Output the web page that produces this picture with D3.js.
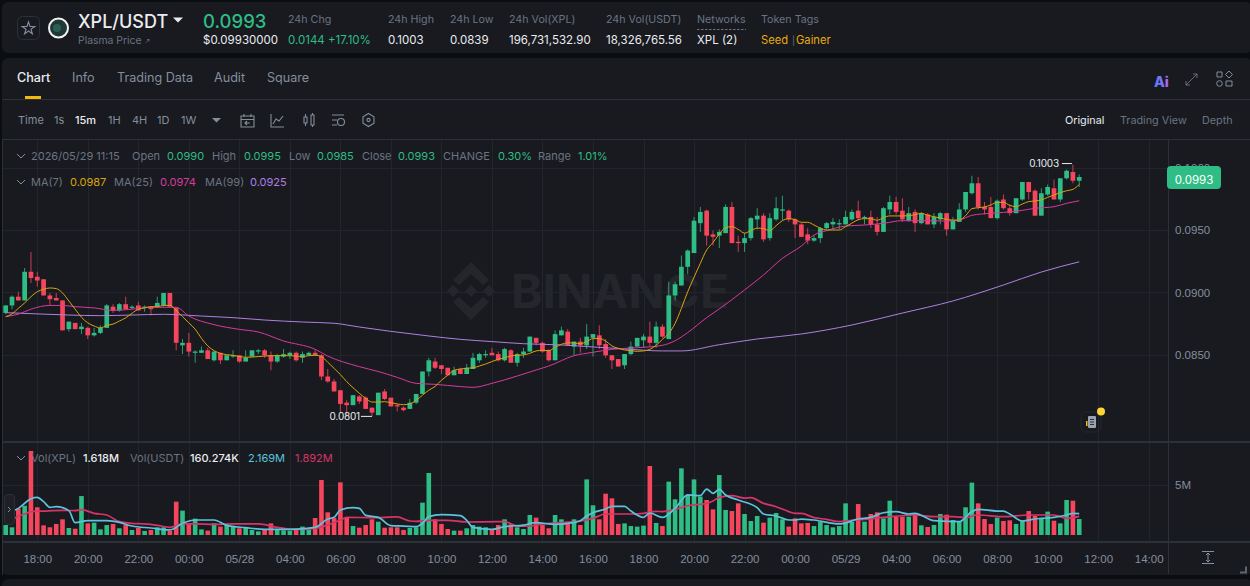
<!DOCTYPE html>
<html>
<head>
<meta charset="utf-8">
<title>XPL/USDT</title>
<script src="https://cdn.jsdelivr.net/npm/d3@7/dist/d3.min.js"></script>
<style>
html,body{margin:0;padding:0;background:#0b0e11;overflow:hidden}
svg{display:block;font-family:Inter,"Noto Sans",sans-serif}
text{dominant-baseline:central}
</style>
</head>
<body>
<svg id="chart" width="1250" height="586"></svg>
<script>
// 15-minute candles for XPL/USDT, oldest first.
const opens = [
0.0884,0.0890,0.0897,0.0894,0.0917,0.0913,0.0911,0.0898,0.0896,0.0894,0.0871,0.0876,0.0871,0.0872,0.0866,0.0868,0.0872,0.0889,0.0886,0.0891,
0.0888,0.0890,0.0888,0.0889,0.0889,0.0890,0.0900,0.0888,0.0858,0.0860,0.0852,0.0852,0.0854,0.0846,0.0852,0.0846,0.0849,0.0850,0.0845,0.0849,
0.0853,0.0854,0.0850,0.0845,0.0849,0.0850,0.0852,0.0848,0.0850,0.0852,0.0850,0.0833,0.0829,0.0822,0.0812,0.0810,0.0817,0.0816,0.0808,0.0802,
0.0821,0.0816,0.0810,0.0808,0.0807,0.0812,0.0819,0.0837,0.0845,0.0842,0.0840,0.0834,0.0839,0.0835,0.0839,0.0846,0.0850,0.0852,0.0851,0.0846,
0.0854,0.0844,0.0851,0.0853,0.0864,0.0860,0.0854,0.0846,0.0866,0.0869,0.0857,0.0861,0.0858,0.0864,0.0866,0.0859,0.0850,0.0847,0.0842,0.0851,
0.0857,0.0862,0.0865,0.0860,0.0873,0.0863,0.0898,0.0906,0.0921,0.0932,0.0956,0.0966,0.0947,0.0946,0.0948,0.0969,0.0941,0.0940,0.0944,0.0959,
0.0962,0.0944,0.0959,0.0966,0.0966,0.0959,0.0955,0.0947,0.0942,0.0944,0.0952,0.0955,0.0955,0.0955,0.0959,0.0966,0.0960,0.0961,0.0955,0.0949,
0.0967,0.0973,0.0966,0.0958,0.0965,0.0956,0.0963,0.0955,0.0959,0.0964,0.0951,0.0957,0.0967,0.0980,0.0988,0.0969,0.0969,0.0960,0.0975,0.0968,
0.0964,0.0975,0.0989,0.0982,0.0962,0.0979,0.0984,0.0975,0.0992,0.0997,0.0990];
const highs = [
0.0890,0.0898,0.0901,0.0920,0.0933,0.0917,0.0911,0.0900,0.0900,0.0894,0.0877,0.0876,0.0876,0.0873,0.0872,0.0874,0.0891,0.0891,0.0892,0.0897,
0.0890,0.0893,0.0890,0.0889,0.0897,0.0900,0.0900,0.0888,0.0863,0.0868,0.0854,0.0857,0.0856,0.0853,0.0852,0.0850,0.0854,0.0850,0.0854,0.0854,
0.0855,0.0855,0.0853,0.0851,0.0855,0.0853,0.0853,0.0853,0.0853,0.0854,0.0851,0.0839,0.0831,0.0822,0.0814,0.0818,0.0818,0.0817,0.0808,0.0820,
0.0823,0.0816,0.0811,0.0809,0.0815,0.0819,0.0837,0.0848,0.0848,0.0842,0.0840,0.0841,0.0840,0.0843,0.0852,0.0852,0.0854,0.0856,0.0853,0.0856,
0.0855,0.0852,0.0856,0.0865,0.0864,0.0861,0.0855,0.0870,0.0873,0.0871,0.0861,0.0864,0.0875,0.0867,0.0874,0.0863,0.0850,0.0847,0.0851,0.0861,
0.0864,0.0867,0.0877,0.0877,0.0875,0.0909,0.0909,0.0930,0.0935,0.0961,0.0969,0.0967,0.0950,0.0951,0.0971,0.0973,0.0946,0.0948,0.0961,0.0968,
0.0964,0.0964,0.0977,0.0978,0.0967,0.0960,0.0956,0.0952,0.0946,0.0953,0.0957,0.0960,0.0959,0.0966,0.0967,0.0974,0.0962,0.0966,0.0961,0.0969,
0.0978,0.0977,0.0976,0.0969,0.0967,0.0965,0.0964,0.0964,0.0965,0.0964,0.0961,0.0972,0.0981,0.0994,0.0993,0.0973,0.0977,0.0975,0.0979,0.0971,
0.0976,0.0989,0.0989,0.0983,0.0984,0.0987,0.0991,0.0992,0.0999,0.1003,0.0995];
const lows = [
0.0883,0.0887,0.0894,0.0894,0.0908,0.0905,0.0898,0.0890,0.0894,0.0870,0.0869,0.0871,0.0867,0.0863,0.0865,0.0867,0.0872,0.0884,0.0885,0.0887,
0.0887,0.0886,0.0885,0.0882,0.0888,0.0889,0.0889,0.0854,0.0851,0.0849,0.0844,0.0852,0.0847,0.0845,0.0843,0.0846,0.0848,0.0844,0.0845,0.0849,
0.0851,0.0848,0.0838,0.0844,0.0848,0.0847,0.0845,0.0844,0.0850,0.0850,0.0830,0.0828,0.0821,0.0804,0.0802,0.0810,0.0811,0.0807,0.0801,0.0802,
0.0814,0.0809,0.0805,0.0805,0.0807,0.0811,0.0819,0.0833,0.0839,0.0835,0.0834,0.0834,0.0835,0.0835,0.0839,0.0844,0.0848,0.0850,0.0845,0.0845,
0.0844,0.0841,0.0848,0.0853,0.0858,0.0852,0.0845,0.0846,0.0866,0.0858,0.0850,0.0852,0.0855,0.0849,0.0855,0.0848,0.0839,0.0841,0.0839,0.0850,
0.0857,0.0856,0.0857,0.0856,0.0864,0.0863,0.0894,0.0906,0.0915,0.0932,0.0949,0.0938,0.0938,0.0936,0.0948,0.0940,0.0933,0.0933,0.0942,0.0951,
0.0941,0.0942,0.0958,0.0958,0.0957,0.0944,0.0945,0.0939,0.0941,0.0940,0.0951,0.0951,0.0951,0.0955,0.0958,0.0958,0.0955,0.0952,0.0946,0.0949,
0.0963,0.0963,0.0957,0.0957,0.0949,0.0955,0.0955,0.0952,0.0955,0.0946,0.0951,0.0957,0.0965,0.0979,0.0967,0.0963,0.0960,0.0959,0.0967,0.0962,
0.0964,0.0974,0.0975,0.0962,0.0962,0.0978,0.0975,0.0973,0.0991,0.0988,0.0985];
const closes = [
0.0890,0.0897,0.0894,0.0917,0.0912,0.0910,0.0898,0.0895,0.0894,0.0870,0.0877,0.0871,0.0873,0.0866,0.0868,0.0872,0.0890,0.0886,0.0891,0.0887,
0.0889,0.0886,0.0889,0.0887,0.0892,0.0900,0.0889,0.0860,0.0860,0.0853,0.0853,0.0854,0.0847,0.0853,0.0846,0.0850,0.0850,0.0845,0.0848,0.0854,
0.0854,0.0850,0.0845,0.0850,0.0851,0.0852,0.0846,0.0851,0.0852,0.0850,0.0833,0.0829,0.0821,0.0811,0.0810,0.0818,0.0813,0.0807,0.0804,0.0820,
0.0815,0.0809,0.0809,0.0806,0.0812,0.0819,0.0837,0.0846,0.0840,0.0839,0.0834,0.0838,0.0835,0.0840,0.0848,0.0851,0.0851,0.0850,0.0846,0.0855,
0.0844,0.0851,0.0853,0.0865,0.0860,0.0853,0.0846,0.0867,0.0870,0.0858,0.0861,0.0858,0.0865,0.0867,0.0858,0.0850,0.0846,0.0841,0.0851,0.0857,
0.0864,0.0865,0.0860,0.0873,0.0865,0.0898,0.0907,0.0921,0.0934,0.0958,0.0965,0.0946,0.0945,0.0949,0.0969,0.0940,0.0940,0.0944,0.0960,0.0962,
0.0943,0.0960,0.0968,0.0967,0.0959,0.0955,0.0945,0.0942,0.0944,0.0952,0.0956,0.0957,0.0956,0.0961,0.0965,0.0960,0.0961,0.0955,0.0949,0.0968,
0.0973,0.0965,0.0959,0.0964,0.0956,0.0964,0.0955,0.0961,0.0964,0.0951,0.0958,0.0967,0.0981,0.0988,0.0969,0.0967,0.0960,0.0974,0.0968,0.0964,
0.0976,0.0989,0.0981,0.0962,0.0980,0.0985,0.0975,0.0992,0.0998,0.0990,0.0993];
// Traded volume per candle, in millions of XPL.
const volumes = [
1.01,0.78,2.70,2.97,8.52,2.81,0.98,0.78,1.12,1.59,0.71,0.64,3.95,1.18,1.25,0.57,1.01,1.12,0.68,1.01,
0.51,0.71,0.41,0.51,0.78,0.78,0.41,3.38,2.47,1.18,1.66,0.57,0.44,1.18,0.85,1.01,0.85,0.68,0.78,0.51,
0.37,0.51,1.18,0.57,0.47,0.44,0.51,0.85,0.57,1.72,5.58,2.30,1.72,5.34,1.79,0.91,0.74,1.01,1.59,1.35,
0.74,0.78,0.78,0.51,0.71,0.78,3.28,6.29,1.59,1.12,0.61,0.44,0.44,0.68,1.01,0.85,0.78,0.57,1.01,1.59,
1.08,0.78,0.61,2.03,1.76,1.01,0.68,2.03,1.59,1.35,1.59,1.01,5.64,3.01,1.59,4.19,3.72,1.12,1.18,0.91,
0.85,0.95,7.00,1.22,0.91,5.41,3.62,6.76,4.06,5.64,3.89,3.55,2.60,6.08,2.54,2.43,3.21,2.13,1.42,1.93,
1.25,1.76,2.23,1.59,0.85,1.69,1.18,1.22,0.91,1.35,1.01,0.78,0.91,3.21,1.35,3.14,1.35,2.13,2.30,1.69,
3.48,1.86,1.86,1.86,2.13,0.98,0.81,1.01,2.13,2.06,1.52,1.39,2.81,5.31,3.21,1.62,1.12,1.76,1.42,1.49,
1.12,1.45,2.43,1.93,1.76,2.37,1.45,1.18,3.55,3.48,1.618];
// Moving average read per candle.
const ma7 = [
0.08810,0.08832,0.08877,0.08920,0.08970,0.09010,0.09030,0.09040,0.09035,0.09000,0.08936,0.08870,0.08805,0.08760,0.08735,0.08720,0.08740,0.08750,0.08775,0.08800,
0.08837,0.08870,0.08880,0.08890,0.08890,0.08900,0.08900,0.08860,0.08810,0.08760,0.08710,0.08636,0.08575,0.08537,0.08516,0.08505,0.08500,0.08490,0.08484,0.08486,
0.08490,0.08494,0.08497,0.08497,0.08497,0.08497,0.08494,0.08490,0.08497,0.08500,0.08490,0.08444,0.08396,0.08345,0.08289,0.08240,0.08195,0.08155,0.08125,0.08125,
0.08128,0.08120,0.08110,0.08104,0.08110,0.08140,0.08180,0.08220,0.08250,0.08300,0.08340,0.08380,0.08390,0.08396,0.08400,0.08414,0.08430,0.08450,0.08468,0.08480,
0.08494,0.08500,0.08503,0.08516,0.08535,0.08540,0.08537,0.08564,0.08588,0.08600,0.08599,0.08593,0.08610,0.08634,0.08634,0.08615,0.08575,0.08556,0.08543,0.08537,
0.08532,0.08535,0.08548,0.08580,0.08628,0.08676,0.08756,0.08877,0.09010,0.09126,0.09238,0.09345,0.09404,0.09473,0.09524,0.09532,0.09510,0.09480,0.09500,0.09520,
0.09516,0.09500,0.09540,0.09580,0.09596,0.09588,0.09567,0.09567,0.09545,0.09520,0.09505,0.09505,0.09505,0.09532,0.09560,0.09588,0.09596,0.09596,0.09583,0.09604,
0.09618,0.09618,0.09618,0.09620,0.09628,0.09639,0.09623,0.09612,0.09601,0.09590,0.09585,0.09585,0.09620,0.09676,0.09684,0.09690,0.09706,0.09727,0.09727,0.09703,
0.09692,0.09714,0.09733,0.09738,0.09746,0.09767,0.09786,0.09805,0.09820,0.09831,0.09870];
const ma25Index = [0,2,4,7,9,11,14,17,20,23,27,29,33,37,40,44,49,51,56,59,62,65,68,72,74,77,81,84,86,90,93,96,100,104,106,108,111,113,117,120,123,126,128,130,133,136,139,142,145,149,151,153,156,160,163,166,168,170];
const ma25 = [0.0881,0.0883,0.0887,0.0890,0.0890,0.0889,0.0888,0.0886,0.0887,0.08885,0.08885,0.08815,0.08746,0.08708,0.08687,0.08615,0.08548,0.08494,0.08409,0.0837,0.08323,0.08275,0.08267,0.08249,0.08243,0.08275,0.08334,0.08382,0.08414,0.08497,0.08524,0.08548,0.08561,0.0858,0.08617,0.08682,0.08802,0.08872,0.09024,0.09144,0.09278,0.09377,0.09465,0.0950,0.09537,0.09545,0.09559,0.0958,0.0958,0.09577,0.09585,0.09623,0.09639,0.09655,0.09679,0.09692,0.09719,0.0974];
const ma99Index = [0,4,10,15,20,25,31,36,41,47,52,56,61,67,72,77,82,88,93,98,104,107,113,119,126,134,142,150,158,164,170];
const ma99 = [0.08842,0.08834,0.08823,0.08818,0.08823,0.08829,0.08815,0.08802,0.08783,0.08767,0.08757,0.08727,0.08692,0.08655,0.08628,0.0861,0.08593,0.08583,0.08567,0.08551,0.08535,0.08535,0.08585,0.08631,0.08671,0.08743,0.08839,0.08936,0.09064,0.09168,0.0925];
// Volume averages, in millions.
const volFastIndex = [0,2,4,5,6,7,8,10,11,13,16,18,20,23,26,28,30,33,35,38,41,45,49,51,52,53,55,56,57,59,61,63,65,66,67,69,72,73,74,77,79,82,84,87,90,91,92,93,95,96,98,99,101,102,104,106,108,110,111,112,113,114,116,119,120,122,124,125,126,128,132,135,137,139,141,143,144,147,151,153,154,157,158,159,161,163,166,168,169,170];
const volFast = [2.20,2.70,3.68,3.82,3.38,2.81,2.87,2.47,1.25,1.45,1.45,1.28,0.91,0.71,0.51,1.18,1.52,1.52,0.98,0.74,0.57,0.57,0.78,1.62,1.79,2.54,2.77,2.70,1.99,1.79,0.95,0.91,0.85,1.18,1.86,2.06,1.96,1.49,0.78,0.57,0.85,1.01,1.25,1.08,1.28,1.45,1.93,2.26,2.64,2.91,2.91,2.43,1.79,2.23,1.79,2.70,4.06,3.99,4.66,4.23,4.63,4.06,3.55,2.77,2.13,1.93,1.52,1.52,1.62,1.52,1.12,1.62,1.79,2.26,2.37,2.13,2.20,1.45,1.35,2.37,2.60,2.43,2.43,2.13,1.42,1.62,1.79,2.03,2.20,2.169];
const volSlowIndex = [0,1,2,3,4,6,9,11,12,14,16,18,20,22,24,26,28,30,33,36,40,43,46,49,51,53,54,58,62,64,65,67,70,73,78,79,81,83,85,88,91,93,95,99,101,103,104,106,108,111,112,113,115,117,118,120,122,124,125,126,128,130,132,134,136,139,144,147,150,152,154,158,162,166,168,170];
const volSlow = [1.59,1.59,1.93,2.13,2.37,2.43,2.50,2.47,2.57,2.20,2.03,1.35,1.18,1.12,0.98,0.78,1.12,1.12,1.08,1.12,1.12,0.78,0.57,0.68,1.01,1.52,1.79,1.76,1.83,1.42,1.39,1.49,1.49,1.32,1.35,1.35,0.91,0.91,1.12,1.25,1.42,1.69,2.13,2.13,2.20,2.40,2.37,2.60,2.97,3.21,3.45,3.82,3.99,3.75,3.79,3.21,2.87,2.37,2.20,2.20,1.76,1.59,1.35,1.49,1.59,1.79,2.03,1.86,1.86,1.76,2.03,1.86,2.03,2.03,1.69,1.892];

const priceTicks = [0.0850,0.0900,0.0950,0.1000];
const volumeTicks = [5];
const timeTickLabels = ["18:00","20:00","22:00","00:00","05/28","04:00","06:00","08:00","10:00","12:00","14:00","16:00","18:00","20:00","22:00","00:00","05/29","04:00","06:00","08:00","10:00","12:00","14:00"];
const headerStats = [
  {label:"24h Chg",value:"0.0144 +17.10%",at:288,tone:"up"},
  {label:"24h High",value:"0.1003",at:388},
  {label:"24h Low",value:"0.0839",at:450},
  {label:"24h Vol(XPL)",value:"196,731,532.90",at:509},
  {label:"24h Vol(USDT)",value:"18,326,765.56",at:606},
  {label:"Networks",value:"XPL (2)",at:697}
];
const tabs = [["Chart",17],["Info",72],["Trading Data",117],["Audit",214],["Square",267]];
const intervals = [["Time",18],["1s",54],["15m",75],["1H",108],["4H",132],["1D",157],["1W",181]];
const views = [["Original",1065],["Trading View",1120],["Depth",1202]];
const ohlcLegend = [["2026/05/29 11:15",31,"dim"],["Open",132,"dim"],["0.0990",167,"up"],["High",212,"dim"],["0.0995",244,"up"],["Low",289,"dim"],["0.0985",317,"up"],["Close",362,"dim"],["0.0993",398,"up"],["CHANGE",443,"dim"],["0.30%",498,"up"],["Range",538,"dim"],["1.01%",578,"up"]];
const maLegend = [["MA(7)",31,"dim"],["0.0987",70,"ma7"],["MA(25)",114,"dim"],["0.0974",160,"ma25"],["MA(99)",205,"dim"],["0.0925",250,"ma99"]];
const volLegend = [["Vol(XPL)",31,"dim"],["1.618M",83,"bright"],["Vol(USDT)",130,"dim"],["160.274K",190,"bright"],["2.169M",248,"volFast"],["1.892M",295,"volSlow"]];

const palette = {
  page:"#0b0e11",panel:"#181a20",rule:"#2b3139",grid:"#22262c",
  up:"#2ebd85",down:"#f6465d",bright:"#eaecef",dim:"#6b7480",axis:"#848e9c",
  ma7:"#d9a40c",ma25:"#d63a9c",ma99:"#b07fe0",volFast:"#5cc3dc",volSlow:"#d8346a",tag:"#e8a90c"
};

const svg = d3.select("#chart");
const QUARTER = 15 * 60 * 1000;
const startTime = Date.UTC(2026,4,27,16,45);
const timeOf = i => new Date(startTime + i * QUARTER);
const tickTimes = timeTickLabels.map((_,k) => timeOf(5 + 8 * k));

const x = d3.scaleUtc().domain([timeOf(0),timeOf(181)]).range([5.7,1148.7]);
const y = d3.scaleLinear().domain([0.085,0.1]).range([355.3,168.3]);
const yVol = d3.scaleLinear().domain([0,5]).range([535,485.7]);

// Page panels
svg.append("rect").attr("width",1250).attr("height",586).attr("fill",palette.page);
svg.append("rect").attr("x",2).attr("y",2).attr("width",1250).attr("height",51).attr("rx",6).attr("fill",palette.panel);
svg.append("rect").attr("x",2).attr("y",58).attr("width",1250).attr("height",517).attr("rx",6).attr("fill",palette.panel);
svg.append("rect").attr("x",2).attr("y",579).attr("width",1250).attr("height",20).attr("rx",6).attr("fill",palette.panel);

function label(parent,text,xPos,yPos,size,fill,weight,anchor){
  return parent.append("text").text(text).attr("x",xPos).attr("y",yPos)
    .attr("font-size",size).attr("fill",fill).attr("font-weight",weight||400).attr("text-anchor",anchor||"start");
}

// Header strip
const head = svg.append("g");
head.append("rect").attr("x",17.5).attr("y",16.5).attr("width",22).attr("height",23).attr("rx",5).attr("fill","none").attr("stroke",palette.rule);
head.append("path").attr("d",d3.symbol(d3.symbolStar,50)()).attr("transform","translate(28.5,28.5)").attr("fill","none").attr("stroke","#848e9c").attr("stroke-width",1.1);
head.append("circle").attr("cx",58.5).attr("cy",28).attr("r",9.5).attr("fill","#1f3a36").attr("stroke","#f2f4f3").attr("stroke-width",2);
head.append("circle").attr("cx",57).attr("cy",28).attr("r",4).attr("fill","#2a5f57");
label(head,"XPL/USDT",78,21,18,palette.bright,500);
head.append("path").attr("d","M173,17.5h10l-5,5z").attr("fill",palette.bright);
label(head,"Plasma Price",78,40,10.4,palette.dim);
head.append("path").attr("d","M146,42.5l3,-3m-2,0h2v2").attr("fill","none").attr("stroke",palette.dim).attr("stroke-width",0.8);
label(head,"0.0993",203,21,18.5,palette.up,500);
label(head,"$0.09930000",203,40,11.5,palette.bright);
headerStats.forEach(s => {
  label(head,s.label,s.at,19,10.7,palette.dim);
  label(head,s.value,s.at,40,11.5,s.tone === "up" ? palette.up : palette.bright);
});
head.append("line").attr("x1",697).attr("x2",746).attr("y1",29.5).attr("y2",29.5).attr("stroke",palette.dim).attr("stroke-dasharray","2.5,1.5");
label(head,"Token Tags",761,19,10.7,palette.dim);
label(head,"Seed",761,40,11.2,palette.tag);
label(head,"|",792,40,9,palette.dim);
label(head,"Gainer",796,40,11.2,palette.tag);

// Tabs
tabs.forEach(([t,px],i) => label(svg,t,px,77.5,12.6,i === 0 ? palette.bright : palette.axis,i === 0 ? 500 : 400));
svg.append("rect").attr("x",25).attr("y",96).attr("width",16).attr("height",3).attr("fill","#f0b90b");
svg.append("line").attr("x1",2).attr("x2",1250).attr("y1",99.5).attr("y2",99.5).attr("stroke",palette.rule);

// Toolbar
intervals.forEach(([t,px]) => label(svg,t,px,120,11,t === "15m" ? palette.bright : palette.axis,t === "15m" ? 500 : 400));
svg.append("path").attr("d","M212,118h9l-4.5,4.5z").attr("fill",palette.axis);
const toolIcons = svg.append("g").attr("fill","none").attr("stroke",palette.axis).attr("stroke-width",1.1);
toolIcons.append("path").attr("d","M241,116h13v11h-13zM241,119.5h13M244,114v3M251,114v3M250,123h-5m2,-2l-2,2l2,2");
toolIcons.append("path").attr("d","M271,114v13h13M273,124l3,-5l3,2l4,-5");
toolIcons.append("path").attr("d","M304,117h3v6h-3zM311,115h3v10h-3zM305.5,114v3M305.5,123v3M312.5,113v2M312.5,125v2");
toolIcons.append("path").attr("d","M332,115h12M332,120h5M332,125h5");
toolIcons.append("circle").attr("cx",341).attr("cy",122).attr("r",3.5);
toolIcons.append("path").attr("d","M368.5,113.5l5.5,3.2v6.6l-5.5,3.2l-5.5,-3.2v-6.6z");
toolIcons.append("circle").attr("cx",368.5).attr("cy",120).attr("r",1.6);
views.forEach(([t,px],i) => label(svg,t,px,120,10.8,i === 0 ? palette.bright : palette.dim));
svg.append("line").attr("x1",2).attr("x2",1250).attr("y1",139.5).attr("y2",139.5).attr("stroke",palette.rule);

// Top-right tools
const aiGrad = svg.append("defs").append("linearGradient").attr("id","aiTone");
aiGrad.append("stop").attr("offset","0%").attr("stop-color","#4f7ef7");
aiGrad.append("stop").attr("offset","100%").attr("stop-color","#b06cf0");
label(svg,"Ai",1154,81.5,14,"url(#aiTone)",800);
const rightIcons = svg.append("g").attr("fill","none").attr("stroke",palette.axis).attr("stroke-width",1);
rightIcons.append("path").attr("d","M1186,85l11,-11M1193,74h4v4M1186,81v4h4").attr("opacity",0.7);
rightIcons.append("path").attr("d","M1217,72h5v5h-5zM1229,71l3.5,3.5l-3.5,3.5l-3.5,-3.5zM1226,81h6v5h-6z");
rightIcons.append("circle").attr("cx",1219.5).attr("cy",83.5).attr("r",2.8);

// Watermark behind the marks
const mark = svg.append("g").attr("fill","#24262c");
[[471,277,13],[471,291,6],[453,291,6],[489,291,6],[471,305,13]].forEach(([cx,cy,r],i) => {
  const inner = i === 0 || i === 4;
  mark.append("path").attr("d",inner
    ? (i === 0 ? `M${cx},${cy-r-2}L${cx+r+5},${cy+3}L${cx+r-1},${cy+8}L${cx},${cy-3}L${cx-r+1},${cy+8}L${cx-r-5},${cy+3}Z`
               : `M${cx},${cy+r+2}L${cx+r+5},${cy-3}L${cx+r-1},${cy-8}L${cx},${cy+3}L${cx-r+1},${cy-8}L${cx-r-5},${cy-3}Z`)
    : `M${cx},${cy-r}L${cx+r},${cy}L${cx},${cy+r}L${cx-r},${cy}Z`);
});
mark.append("text").text("BINANCE").attr("x",511).attr("y",291).attr("font-size",46).attr("font-weight",700).attr("textLength",218).attr("lengthAdjust","spacingAndGlyphs");

// Price and time grid
const grid = svg.append("g").attr("stroke",palette.grid).attr("shape-rendering","crispEdges");
grid.selectAll(".v").data(tickTimes).join("line").attr("x1",d => Math.round(x(d))+0.5).attr("x2",d => Math.round(x(d))+0.5).attr("y1",140).attr("y2",542);
grid.selectAll(".h").data(priceTicks).join("line").attr("x1",3).attr("x2",1168).attr("y1",d => y(d)).attr("y2",d => y(d));
grid.selectAll(".hv").data(volumeTicks).join("line").attr("x1",3).attr("x2",1168).attr("y1",d => yVol(d)).attr("y2",d => yVol(d));

// Frame rules
const frame = svg.append("g").attr("stroke",palette.rule).attr("shape-rendering","crispEdges");
frame.append("line").attr("x1",2.5).attr("x2",2.5).attr("y1",140).attr("y2",575);
frame.append("line").attr("x1",1168.5).attr("x2",1168.5).attr("y1",140).attr("y2",574);
frame.append("line").attr("x1",2).attr("x2",1250).attr("y1",441.5).attr("y2",441.5).attr("stroke-width",2);
frame.append("line").attr("x1",2).attr("x2",1250).attr("y1",542).attr("y2",542).attr("stroke-width",2);

// Candles
svg.append("clipPath").attr("id","plotClip").append("rect").attr("x",3).attr("y",140).attr("width",1165).attr("height",301);
const indexes = d3.range(closes.length);
const tone = i => closes[i] >= opens[i] ? palette.up : palette.down;
const candleLayer = svg.append("g").attr("clip-path","url(#plotClip)");
candleLayer.selectAll(".wick").data(indexes).join("line")
  .attr("x1",i => x(timeOf(i))).attr("x2",i => x(timeOf(i)))
  .attr("y1",i => y(highs[i])).attr("y2",i => y(lows[i]))
  .attr("stroke",tone).attr("stroke-width",1).attr("stroke-opacity",0.8);
candleLayer.selectAll(".body").data(indexes).join("rect")
  .attr("x",i => x(timeOf(i)) - 2.35).attr("width",4.7)
  .attr("y",i => y(Math.max(opens[i],closes[i])))
  .attr("height",i => Math.max(1,Math.abs(y(opens[i]) - y(closes[i]))))
  .attr("fill",tone);

// Price moving averages
const priceLine = d3.line().curve(d3.curveMonotoneX);
const drawMa = (idx,vals,color) => candleLayer.append("path")
  .attr("d",priceLine(idx.map((i,k) => [x(timeOf(i)),y(vals[k])])))
  .attr("fill","none").attr("stroke",color).attr("stroke-width",1);
drawMa(ma99Index,ma99,palette.ma99);
drawMa(ma25Index,ma25,palette.ma25);
drawMa(indexes,ma7,palette.ma7);

// Period high and low markers
const peak = closes.length - 2;
const trough = d3.scan(lows);
const hiX = x(timeOf(peak)), loX = x(timeOf(trough));
svg.append("line").attr("x1",hiX-11).attr("x2",hiX-1).attr("y1",y(highs[peak])-1).attr("y2",y(highs[peak])-1).attr("stroke","#eaecef");
label(svg,"0.1003",hiX-14,y(highs[peak])-1.5,10,"#eaecef",400,"end").attr("letter-spacing",-0.2);
svg.append("line").attr("x1",loX-11).attr("x2",loX).attr("y1",y(lows[trough])).attr("y2",y(lows[trough])).attr("stroke","#eaecef");
label(svg,"0.0801",loX-12,y(lows[trough]),10,"#eaecef",400,"end").attr("letter-spacing",-0.2);

// Volume pane
const volLayer = svg.append("g");
volLayer.selectAll(".bar").data(indexes).join("rect")
  .attr("x",i => x(timeOf(i)) - 2.3).attr("width",4.6)
  .attr("y",i => yVol(volumes[i])).attr("height",i => yVol(0) - yVol(volumes[i]))
  .attr("fill",tone);
const drawVolMa = (idx,vals,color) => volLayer.append("path")
  .attr("d",priceLine(idx.map((i,k) => [x(timeOf(i)),yVol(vals[k])])))
  .attr("fill","none").attr("stroke",color).attr("stroke-width",1.7);
drawVolMa(volSlowIndex,volSlow,palette.volSlow);
drawVolMa(volFastIndex,volFast,palette.volFast);

// Axes
const styleAxis = g => {
  g.select(".domain").remove();
  g.selectAll("line").remove();
  g.selectAll("text").attr("fill",palette.axis).attr("font-family","inherit").style("dominant-baseline","central");
};
svg.append("g").attr("transform","translate(1168,-0.8)")
  .call(d3.axisRight(y).tickValues(priceTicks).tickFormat(d3.format(".4f")).tickSize(0).tickPadding(7))
  .attr("font-size",11.5).call(styleAxis).selectAll("text").attr("dy",0);
svg.append("g").attr("transform","translate(1168,-0.8)")
  .call(d3.axisRight(yVol).tickValues(volumeTicks).tickFormat(d => d + "M").tickSize(0).tickPadding(7))
  .attr("font-size",11.5).call(styleAxis).selectAll("text").attr("dy",0);
svg.append("g").attr("transform","translate(0,559)")
  .call(d3.axisBottom(x).tickValues(tickTimes).tickFormat((d,k) => timeTickLabels[k]).tickSize(0).tickPadding(0))
  .attr("font-size",11.5).call(styleAxis).selectAll("text").attr("dy",0).attr("y",0);

// Current price tag
svg.append("rect").attr("x",1167).attr("y",166).attr("width",54).attr("height",23).attr("rx",4).attr("fill","#2ebd85");
label(svg,"0.0993",1194,179.5,11.5,"#ffffff",400,"middle");

// Legend rows
const legendColour = {dim:palette.dim,up:palette.up,bright:palette.bright,ma7:palette.ma7,ma25:palette.ma25,ma99:palette.ma99,volFast:palette.volFast,volSlow:palette.volSlow};
const chevron = yPos => svg.append("path").attr("d",`M17,${yPos-2}l4,4l4,-4`).attr("fill","none").attr("stroke",palette.axis);
[[156,ohlcLegend],[182,maLegend],[458,volLegend]].forEach(([rowY,row]) => {
  chevron(rowY);
  row.forEach(([t,px,kind]) => label(svg,t,px,rowY,11,legendColour[kind],kind === "bright" ? 500 : 400));
});

// Left collapse handle
svg.append("rect").attr("x",4.5).attr("y",494.5).attr("width",10).attr("height",30).attr("rx",3.5).attr("fill","#1e2026").attr("stroke",palette.rule);
svg.append("path").attr("d","M8,507l2.5,2.5l-2.5,2.5").attr("fill","none").attr("stroke",palette.axis);

// Note badge on the latest candle
svg.append("rect").attr("x",1081).attr("y",412).attr("width",20).attr("height",20).attr("rx",5).attr("fill","none").attr("stroke","#23262c");
svg.append("rect").attr("x",1088).attr("y",416).attr("width",8).attr("height",12).attr("rx",1).attr("fill","#9aa3af");
svg.append("path").attr("d","M1090,419.5h4M1090,422h4M1090,424.5h4").attr("stroke","#2b3139");
svg.append("rect").attr("x",1086).attr("y",421).attr("width",1.5).attr("height",5).attr("fill","#f0b90b");
svg.append("circle").attr("cx",1101).attr("cy",411.5).attr("r",4).attr("fill","#fcd535");

// Autoscale control and resize corner
const scaleIcon = svg.append("g").attr("stroke",palette.axis).attr("fill","none");
scaleIcon.append("path").attr("d","M1202,551.5h12M1202,563.5h12M1208,553.5v8M1206,555l2,-2l2,2M1206,560l2,2l2,-2");
svg.append("path").attr("d","M1240,572.5h6v-6").attr("fill","none").attr("stroke","#5e6673").attr("stroke-width",2);
</script>
</body>
</html>
